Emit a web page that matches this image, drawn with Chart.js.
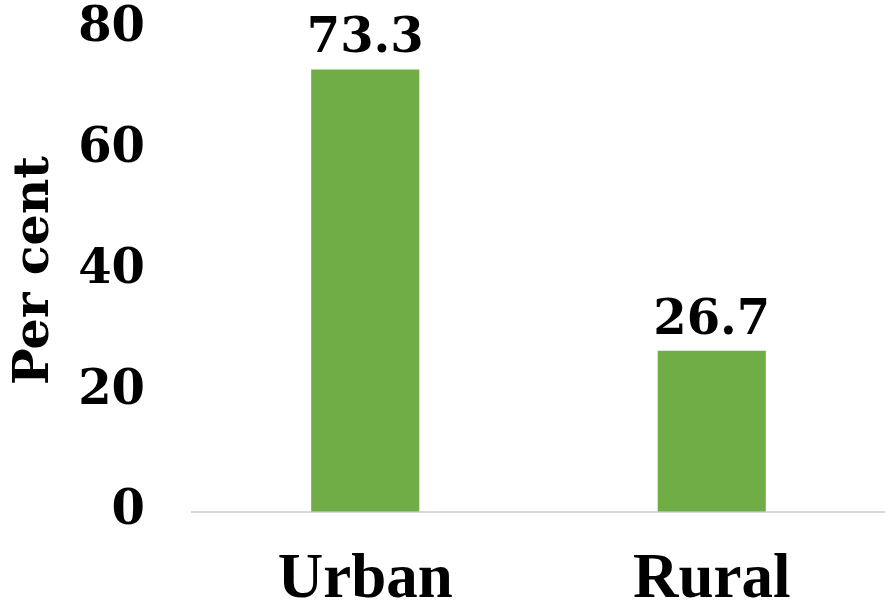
<!DOCTYPE html>
<html>
<head>
<meta charset="utf-8">
<script src="https://cdn.jsdelivr.net/npm/chart.js@4"></script>
<style>
    html, body { margin: 0; padding: 0; background: #fff; }
    #wrap { width: 885px; height: 606px; position: relative; }
</style>
</head>
<body>
<div id="wrap"><canvas id="chart"></canvas></div>
<script>
// Chart data
const categories = ['Urban', 'Rural'];
const shares = [73.3, 26.7];
const yTicks = [0, 20, 40, 60, 80];

const serif = "'DejaVu Serif', serif";

// Draw the value above each bar
const valueLabels = {
    id: 'valueLabels',
    afterDatasetsDraw(chart) {
        const ctx = chart.ctx;
        const meta = chart.getDatasetMeta(0);
        ctx.save();
        ctx.font = "bold 48px " + serif;
        ctx.fillStyle = '#000';
        ctx.textAlign = 'center';
        ctx.textBaseline = 'alphabetic';
        meta.data.forEach((bar, i) => {
            ctx.fillText(shares[i].toFixed(1), bar.x, bar.y - 17);
        });
        ctx.restore();
    }
};

new Chart(document.getElementById('chart').getContext('2d'), {
    type: 'bar',
    data: {
        labels: categories,
        datasets: [{
            data: shares,
            backgroundColor: '#70AD47',
            borderWidth: 0,
            barPercentage: 0.312,
            categoryPercentage: 1
        }]
    },
    options: {
        responsive: true,
        maintainAspectRatio: false,
        animation: false,
        layout: { padding: { top: 29, right: 0, bottom: 0, left: 11 } },
        plugins: {
            legend: { display: false },
            tooltip: { enabled: false }
        },
        scales: {
            x: {
                grid: { display: false, drawTicks: false },
                border: { color: '#D9D9D9', width: 2 },
                ticks: {
                    color: '#000',
                    font: { family: "'Liberation Serif', serif", size: 63, weight: 'bold', lineHeight: 1 },
                    padding: 37
                },
                afterFit(scale) { scale.height = 94; }
            },
            y: {
                min: 0,
                max: 80,
                afterBuildTicks(scale) { scale.ticks = yTicks.map(v => ({ value: v })); },
                // invisible tick marks give the gap between labels and plot
                grid: { drawOnChartArea: false, drawTicks: true, tickLength: 47, tickColor: 'rgba(0,0,0,0)' },
                border: { display: false },
                ticks: {
                    color: '#000',
                    font: { family: serif, size: 48, weight: 'bold', lineHeight: 1 },
                    padding: 0
                },
                title: {
                    display: true,
                    text: 'Per cent',
                    color: '#000',
                    font: { family: serif, size: 49, weight: 'bold', lineHeight: 1 },
                    padding: 0
                },
                afterFit(scale) { scale.width = 181; }
            }
        }
    },
    plugins: [valueLabels]
});
</script>
</body>
</html>
